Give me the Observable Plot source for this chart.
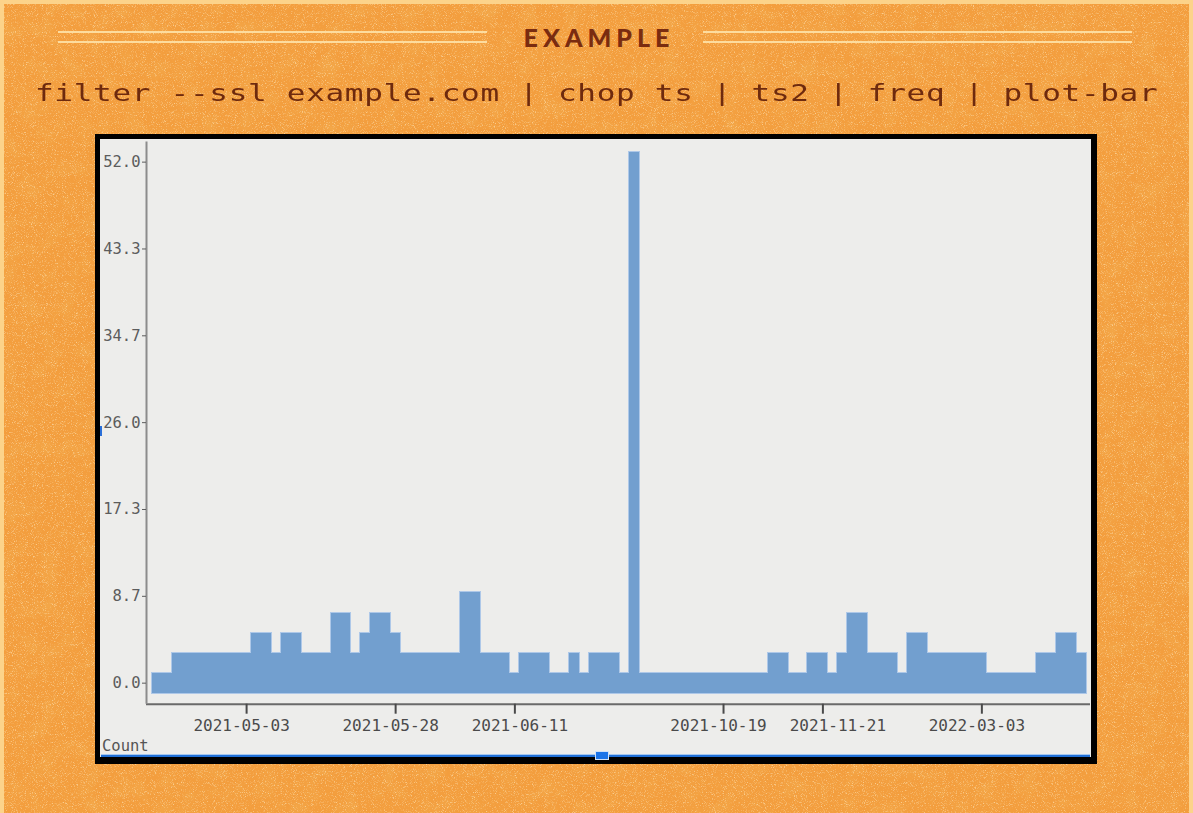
<!DOCTYPE html>
<html>
<head>
<meta charset="utf-8">
<script src="https://cdn.jsdelivr.net/npm/d3@7"></script>
<script src="https://cdn.jsdelivr.net/npm/@observablehq/plot@0.6"></script>
<style>
  html, body { margin: 0; padding: 0; }
  body { width: 1193px; height: 813px; position: relative; overflow: hidden; background: #f29c3c; }
  #bg { position: absolute; left: 0; top: 0; }
  #edge { position: absolute; left: 0; top: 0; width: 1193px; height: 813px; box-sizing: border-box;
          border: 4px solid #fcd38a; border-bottom: none; }
  .hl { position: absolute; height: 2px; background: #fddc9e; }
  #title { position: absolute; left: 0; width: 1193px; top: 24.5px; text-align: center;
           font-family: Lato, sans-serif; font-weight: 900; font-size: 25px; line-height: 25px;
           letter-spacing: 5px; color: #7a2c10; padding-left: 5px; box-sizing: border-box; }
  #subtitle { position: absolute; left: 0; width: 1193px; top: 82px; text-align: center;
              font-family: "DejaVu Sans Mono", monospace; font-size: 23px; line-height: 23px;
              letter-spacing: 0.5px; color: #6e2a0e; transform: scaleX(1.35); transform-origin: 596px 50%;
              white-space: pre; }
  #frame { position: absolute; left: 95px; top: 134px; width: 1002px; height: 630px; box-sizing: border-box;
           border: 5px solid #000; border-right-width: 6px; border-bottom-width: 7px; background: #ededeb; }
  #chart { position: absolute; left: 0; top: 0; }
  #count { position: absolute; left: 2px; top: 599px; font-family: "DejaVu Sans Mono", monospace;
           font-size: 15.5px; line-height: 16px; color: #555; }
  #scroll { position: absolute; left: 1px; top: 615px; width: 989px; height: 2px; background: #1f6fd6;
            border-top: 1px solid #a6c8f0; }
  #thumb { position: absolute; left: 495px; top: 612px; width: 12px; height: 7px; background: #1a73e8;
           border: 1px solid #cfe0f7; }
  #lmark { position: absolute; left: 0; top: 287px; width: 2px; height: 10px; background: #2a6fd8; }
</style>
</head>
<body>
<svg id="bg" width="1193" height="813">
  <defs>
    <filter id="speck" x="0" y="0" width="100%" height="100%">
      <feTurbulence type="fractalNoise" baseFrequency="1.1" numOctaves="2" seed="7"/>
      <feColorMatrix type="matrix" values="0 0 0 0 1  0 0 0 0 0.84  0 0 0 0 0.55  3.5 0 0 0 -1.9"/>
    </filter>
    <filter id="blot" x="0" y="0" width="100%" height="100%">
      <feTurbulence type="fractalNoise" baseFrequency="0.05" numOctaves="4" seed="2"/>
      <feColorMatrix type="matrix" values="0 0 0 0 0.9  0 0 0 0 0.5  0 0 0 0 0.12  2.2 0 0 0 -1.0"/>
    </filter>
  </defs>
  <rect width="1193" height="813" fill="#f39e3e"/>
  <rect width="1193" height="813" filter="url(#blot)" opacity="0.3"/>
  <rect width="1193" height="813" filter="url(#speck)" opacity="0.6"/>
</svg>
<div id="edge"></div>
<div class="hl" style="left:58px;top:30.5px;width:429px"></div>
<div class="hl" style="left:58px;top:40.5px;width:429px"></div>
<div class="hl" style="left:703px;top:30.5px;width:429px"></div>
<div class="hl" style="left:703px;top:40.5px;width:429px"></div>
<div id="title">EXAMPLE</div>
<div id="subtitle">filter --ssl example.com | chop ts | ts2 | freq | plot-bar</div>
<div id="frame">
  <div id="chart"></div>
  <div id="lmark"></div>
  <div id="count">Count</div>
  <div id="scroll"></div>
  <div id="thumb"></div>
</div>
<script>
// Category labels (dates), one per bar
const dates = [
  "2021-04-19","2021-04-20","2021-04-21","2021-04-22","2021-04-23","2021-04-26","2021-04-27","2021-04-28","2021-04-29","2021-05-03",
  "2021-05-04","2021-05-05","2021-05-06","2021-05-07","2021-05-10","2021-05-11","2021-05-12","2021-05-13","2021-05-14","2021-05-17",
  "2021-05-18","2021-05-19","2021-05-20","2021-05-21","2021-05-28","2021-05-29","2021-05-31","2021-06-01","2021-06-02","2021-06-03",
  "2021-06-04","2021-06-05","2021-06-07","2021-06-08","2021-06-09","2021-06-10","2021-06-11","2021-06-14","2021-06-15","2021-06-16",
  "2021-06-17","2021-06-18","2021-06-21","2021-06-22","2021-06-23","2021-06-24","2021-06-25","2021-06-28","2021-07-01","2021-07-20",
  "2021-08-03","2021-08-17","2021-08-31","2021-09-14","2021-09-21","2021-10-05","2021-10-12","2021-10-19","2021-10-22","2021-10-26",
  "2021-10-29","2021-11-02","2021-11-05","2021-11-09","2021-11-12","2021-11-16","2021-11-19","2021-11-21","2021-11-24","2021-11-30",
  "2021-12-03","2021-12-07","2021-12-10","2021-12-14","2021-12-17","2021-12-21","2022-01-04","2022-01-11","2022-01-18","2022-01-25",
  "2022-02-01","2022-02-08","2022-02-15","2022-03-03","2022-03-10","2022-03-17","2022-03-24","2022-03-31","2022-04-07","2022-04-14",
  "2022-04-21","2022-04-28","2022-05-05","2022-05-12"
];
// Bar values (as drawn)
const counts = [
  1,1,3,3,3,3,3,3,3,3,
  5,5,3,5,5,3,3,3,7,7,
  3,5,7,7,5,3,3,3,3,3,
  3,9,9,3,3,3,1,3,3,3,
  1,1,3,1,3,3,3,1,53,1,
  1,1,1,1,1,1,1,1,1,1,
  1,1,3,3,1,1,3,3,1,3,
  7,7,3,3,3,1,5,5,3,3,
  3,3,3,3,1,1,1,1,1,3,
  3,5,5,3
];
const baseline = -1;
const yTicks = [0, 8.667, 17.333, 26, 34.667, 43.333, 52];
const xTickLabels = ["2021-05-03","2021-05-28","2021-06-11","2021-10-19","2021-11-21","2022-03-03"];
// label groups, as the reference nudges some labels to avoid overlap
const xLabelsLeft = ["2021-05-03","2021-05-28","2021-10-19","2022-03-03"];
const xLabelsRight = ["2021-06-11"];
const xLabelsFarRight = ["2021-11-21"];

const data = dates.map((date, i) => ({date, i, count: counts[i]}));
const xMin = -0.574, xMax = 94.433, yMin = -2.1, yMax = 54;
const pos = labels => labels.map(l => dates.indexOf(l) + 0.5);
const fmt = v => dates[Math.round(v - 0.5)];
const labelOpts = {tickSize: 0, tickPadding: 15, fontSize: 16, color: "#4a4a4a", tickFormat: fmt, label: null};

const chart = Plot.plot({
  width: 991,
  height: 600,
  marginLeft: 46,
  marginRight: 1,
  marginTop: 2.6,
  marginBottom: 35.3,
  style: {background: "transparent", fontFamily: "DejaVu Sans Mono, monospace", overflow: "visible"},
  x: {type: "linear", domain: [xMin, xMax]},
  y: {domain: [yMin, yMax]},
  marks: [
    Plot.rectY(data, {x1: "i", x2: d => d.i + 1, y1: () => baseline, y2: "count", fill: "none",
                      stroke: "#aec8e8", strokeWidth: 2, shapeRendering: "crispEdges"}),
    Plot.rectY(data, {x1: "i", x2: d => d.i + 1, y1: () => baseline, y2: "count", fill: "#729fcf",
                      shapeRendering: "crispEdges"}),
    Plot.ruleY([yMin], {stroke: "#6a6a6a", strokeWidth: 2}),
    Plot.ruleX([xMin], {stroke: "#8c8c8c", strokeWidth: 2}),
    Plot.axisY({ticks: yTicks, tickFormat: d3.format(".1f"), tickSize: 4, tickPadding: 2,
                fontSize: 15.5, color: "#5c5c5c", label: null}),
    Plot.axisX({ticks: pos(xTickLabels), tickFormat: () => "", tickSize: 10, strokeWidth: 2,
                color: "#4a4a4a", label: null}),
    Plot.axisX({...labelOpts, ticks: pos(xLabelsLeft), dx: -5}),
    Plot.axisX({...labelOpts, ticks: pos(xLabelsRight), dx: 5}),
    Plot.axisX({...labelOpts, ticks: pos(xLabelsFarRight), dx: 15})
  ]
});
document.getElementById("chart").appendChild(chart);
</script>
</body>
</html>
